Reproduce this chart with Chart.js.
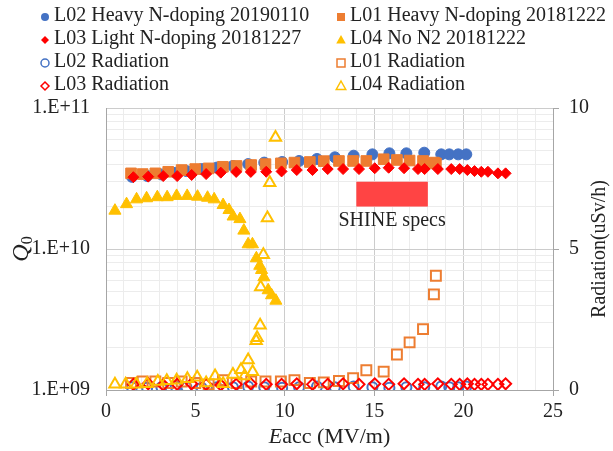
<!DOCTYPE html>
<html lang="en">
<head>
    <meta charset="UTF-8">
    <title>Q0 and radiation vs Eacc</title>
    <script src="https://cdn.jsdelivr.net/npm/chart.js"></script>
    <style>
        html, body {
            margin: 0;
            padding: 0;
            background-color: #ffffff;
        }

        #graph {
            display: block;
        }
    </style>
</head>
<body>

    <canvas id="graph" width="613" height="451"></canvas>

    <script>
        // L02 Heavy N-doping 20190110
        const l02Eacc = [1.45, 2.3, 3.1, 3.9, 4.5, 5.35, 6.2, 7.1, 7.95, 8.85, 9.85, 10.8, 11.8, 12.8, 13.85, 14.9, 15.85, 16.8, 17.8, 18.75, 19.2, 19.7, 20.15];
        const l02Q0 = [3.25e10, 3.3e10, 3.38e10, 3.47e10, 3.57e10, 3.69e10, 3.78e10, 3.88e10, 4.0e10, 4.1e10, 4.14e10, 4.21e10, 4.35e10, 4.47e10, 4.59e10, 4.69e10, 4.77e10, 4.77e10, 4.82e10, 4.69e10, 4.69e10, 4.69e10, 4.69e10];
        const l02Rad = [0.1, 0.08, 0.1, 0.12, 0.1, 0.08, 0.1, 0.1, 0.12, 0.1, 0.08, 0.1, 0.12, 0.1, 0.12, 0.1, 0.08, 0.1, 0.1, 0.12, 0.1, 0.1, 0.12];

        // L01 Heavy N-doping 20181222
        const l01Eacc = [1.4, 2.05, 2.76, 3.48, 4.23, 4.99, 5.74, 6.54, 7.3, 8.12, 8.92, 9.78, 10.54, 11.4, 12.18, 13.03, 13.82, 14.56, 15.53, 16.27, 16.98, 17.73, 18.34, 18.45];
        const l01Q0 = [3.44e10, 3.4e10, 3.44e10, 3.53e10, 3.63e10, 3.69e10, 3.73e10, 3.83e10, 3.88e10, 3.94e10, 4.0e10, 4.05e10, 4.1e10, 4.14e10, 4.2e10, 4.21e10, 4.21e10, 4.21e10, 4.33e10, 4.28e10, 4.24e10, 4.21e10, 4.1e10, 4.05e10];
        const l01Rad = [0.25, 0.3, 0.3, 0.25, 0.3, 0.25, 0.2, 0.35, 0.25, 0.3, 0.3, 0.3, 0.35, 0.25, 0.27, 0.32, 0.42, 0.7, 0.65, 1.26, 1.69, 2.16, 3.39, 4.05];

        // L03 Light N-doping 20181227
        const l03Eacc = [1.53, 2.36, 3.2, 3.98, 4.79, 5.6, 6.42, 7.28, 8.1, 8.96, 9.82, 10.67, 11.55, 12.4, 13.26, 14.15, 15.03, 15.81, 16.67, 17.45, 17.82, 18.56, 19.31, 19.78, 20.21, 20.61, 20.99, 21.36, 21.92, 22.35];
        const l03Q0 = [3.23e10, 3.26e10, 3.29e10, 3.29e10, 3.35e10, 3.4e10, 3.48e10, 3.52e10, 3.52e10, 3.53e10, 3.55e10, 3.63e10, 3.63e10, 3.69e10, 3.69e10, 3.69e10, 3.74e10, 3.77e10, 3.74e10, 3.69e10, 3.69e10, 3.69e10, 3.69e10, 3.69e10, 3.63e10, 3.57e10, 3.53e10, 3.53e10, 3.44e10, 3.44e10];
        const l03Rad = [0.2, 0.22, 0.18, 0.2, 0.22, 0.2, 0.18, 0.2, 0.22, 0.2, 0.2, 0.22, 0.2, 0.2, 0.22, 0.2, 0.22, 0.2, 0.22, 0.2, 0.2, 0.22, 0.2, 0.2, 0.22, 0.2, 0.2, 0.2, 0.2, 0.22];

        // L04 No N2 20181222
        const l04Eacc = [0.5, 1.15, 1.71, 2.27, 2.87, 3.42, 3.95, 4.54, 5.12, 5.68, 6.05, 6.55, 6.88, 7.11, 7.49, 7.71, 7.95, 8.19, 8.41, 8.6, 8.7, 8.83, 9.07, 9.26, 9.5];
        const l04Q0 = [1.87e10, 2.08e10, 2.25e10, 2.29e10, 2.33e10, 2.33e10, 2.38e10, 2.38e10, 2.35e10, 2.31e10, 2.25e10, 2.05e10, 1.89e10, 1.7e10, 1.63e10, 1.35e10, 1.08e10, 1.08e10, 8.6e9, 7.6e9, 7.1e9, 6.3e9, 5.1e9, 4.7e9, 4.3e9];
        const l04RadEacc = [0.5, 1.1, 1.7, 2.3, 2.9, 3.4, 3.95, 4.55, 5.1, 5.6, 6.1, 6.55, 7.1, 7.55, 7.75, 7.95, 8.2, 8.4, 8.45, 8.62, 8.65, 8.8, 9.03, 9.16, 9.48];
        const l04Rad = [0.2, 0.2, 0.2, 0.22, 0.3, 0.33, 0.35, 0.4, 0.45, 0.25, 0.5, 0.22, 0.55, 0.72, 0.5, 1.06, 0.65, 1.75, 1.85, 2.3, 3.65, 4.8, 6.1, 7.35, 8.95];

        // SHINE specs box (Eacc range, Q0 range)
        const shineEacc = [14, 18];
        const shineQ0 = [2e10, 3e10];

        // axis ticks
        const eaccLabels = [0, 5, 10, 15, 20, 25];
        const q0Decades = [1e9, 1e10, 1e11];
        const q0DecadeText = ['1.E+09', '1.E+10', '1.E+11'];
        const radTicks = [0, 5, 10];

        const SERIF = "'Liberation Serif', 'Times New Roman', serif";
        const BLUE = '#4472C4';
        const ORANGE = '#ED7D31';
        const RED = '#FF0000';
        const GOLD = '#FFC000';

        function pts(xs, ys) {
            return xs.map((x, i) => ({ x: x, y: ys[i] }));
        }

        function isDecade(v) {
            const l = Math.log10(v);
            return Math.abs(l - Math.round(l)) < 1e-6;
        }

        const datasets = [
            { label: 'L02 Heavy N-doping 20190110', data: pts(l02Eacc, l02Q0), yAxisID: 'y',
              pointStyle: 'circle', pointRadius: 5.5, backgroundColor: BLUE, borderColor: BLUE, borderWidth: 1, filled: true },
            { label: 'L01 Heavy N-doping 20181222', data: pts(l01Eacc, l01Q0), yAxisID: 'y',
              pointStyle: 'rect', pointRadius: 7.5, backgroundColor: ORANGE, borderColor: ORANGE, borderWidth: 1, filled: true },
            { label: 'L03 Light N-doping 20181227', data: pts(l03Eacc, l03Q0), yAxisID: 'y',
              pointStyle: 'rectRot', pointRadius: 5.5, backgroundColor: RED, borderColor: RED, borderWidth: 1, filled: true },
            { label: 'L04 No N2 20181222', data: pts(l04Eacc, l04Q0), yAxisID: 'y',
              pointStyle: 'triangle', pointRadius: 7, backgroundColor: GOLD, borderColor: GOLD, borderWidth: 1, filled: true },
            { label: 'L02 Radiation', data: pts(l02Eacc, l02Rad), yAxisID: 'y2',
              pointStyle: 'circle', pointRadius: 5, backgroundColor: 'rgba(255,255,255,0)', borderColor: BLUE, borderWidth: 2, filled: false },
            { label: 'L01 Radiation', data: pts(l01Eacc, l01Rad), yAxisID: 'y2',
              pointStyle: 'rect', pointRadius: 7, backgroundColor: 'rgba(255,255,255,0)', borderColor: ORANGE, borderWidth: 2, filled: false },
            { label: 'L03 Radiation', data: pts(l03Eacc, l03Rad), yAxisID: 'y2',
              pointStyle: 'rectRot', pointRadius: 5.5, backgroundColor: 'rgba(255,255,255,0)', borderColor: RED, borderWidth: 2, filled: false },
            { label: 'L04 Radiation', data: pts(l04RadEacc, l04Rad), yAxisID: 'y2',
              pointStyle: 'triangle', pointRadius: 6.5, backgroundColor: 'rgba(255,255,255,0)', borderColor: GOLD, borderWidth: 2, filled: false }
        ];
        // later series drawn on top, like the spreadsheet
        datasets.forEach((d, i) => { d.order = 20 - i; d.showLine = false; d.pointHoverRadius = d.pointRadius; });

        function marker(ctx, style, x, y, r) {
            ctx.beginPath();
            if (style === 'circle') {
                ctx.arc(x, y, r, 0, Math.PI * 2);
            } else if (style === 'rect') {
                ctx.rect(x - r, y - r, 2 * r, 2 * r);
            } else if (style === 'rectRot') {
                ctx.moveTo(x, y - r); ctx.lineTo(x + r, y); ctx.lineTo(x, y + r); ctx.lineTo(x - r, y);
            } else {
                ctx.moveTo(x, y - r); ctx.lineTo(x + r * 0.95, y + r * 0.7); ctx.lineTo(x - r * 0.95, y + r * 0.7);
            }
            ctx.closePath();
        }

        const shineBox = {
            id: 'shineBox',
            beforeDatasetsDraw(chart) {
                const ctx = chart.ctx;
                const xs = chart.scales.x, ys = chart.scales.y;
                const x0 = xs.getPixelForValue(shineEacc[0]), x1 = xs.getPixelForValue(shineEacc[1]);
                const yTop = ys.getPixelForValue(shineQ0[1]), yBot = ys.getPixelForValue(shineQ0[0]);
                ctx.save();
                ctx.fillStyle = '#FF4444';
                ctx.fillRect(x0, yTop, x1 - x0, yBot - yTop);
                ctx.fillStyle = '#222222';
                ctx.font = '20px ' + SERIF;
                ctx.textAlign = 'center';
                ctx.textBaseline = 'middle';
                ctx.fillText('SHINE specs', (x0 + x1) / 2, yBot + 14);
                ctx.restore();
            }
        };

        const extras = {
            id: 'extras',
            afterDraw(chart) {
                const ctx = chart.ctx;
                const area = chart.chartArea;
                ctx.save();
                ctx.fillStyle = '#222222';
                ctx.textBaseline = 'middle';

                // two column legend
                const colX = [45, 341];
                const rowY = [16, 39, 62, 85];
                ctx.font = '20px ' + SERIF;
                ctx.textAlign = 'left';
                chart.data.datasets.forEach((d, i) => {
                    const x = colX[i % 2], y = rowY[Math.floor(i / 2)];
                    const r = d.pointStyle === 'rect' ? 4 : (d.pointStyle === 'triangle' ? 5 : 4);
                    marker(ctx, d.pointStyle, x, y + 1, r);
                    if (d.filled) {
                        ctx.fillStyle = d.backgroundColor;
                        ctx.fill();
                    } else {
                        ctx.lineWidth = 1.5;
                        ctx.strokeStyle = d.borderColor;
                        ctx.stroke();
                    }
                    ctx.fillStyle = '#222222';
                    ctx.fillText(d.label, x + 9, y);
                });

                // x title: Eacc (MV/m)
                ctx.font = 'italic 22px ' + SERIF;
                const wE = ctx.measureText('E').width;
                ctx.font = '22px ' + SERIF;
                const wRest = ctx.measureText('acc (MV/m)').width;
                const cx = (area.left + area.right) / 2;
                let sx = cx - (wE + wRest) / 2;
                ctx.font = 'italic 22px ' + SERIF;
                ctx.fillText('E', sx, 437);
                ctx.font = '22px ' + SERIF;
                ctx.fillText('acc (MV/m)', sx + wE, 437);

                // y title: Q0 (subscript)
                ctx.save();
                ctx.translate(22, (area.top + area.bottom) / 2);
                ctx.rotate(-Math.PI / 2);
                ctx.font = 'italic 24px ' + SERIF;
                const wQ = ctx.measureText('Q').width;
                ctx.font = '16px ' + SERIF;
                const w0 = ctx.measureText('0').width;
                const qx = -(wQ + w0) / 2;
                ctx.font = 'italic 24px ' + SERIF;
                ctx.fillText('Q', qx, 0);
                ctx.font = '16px ' + SERIF;
                ctx.fillText('0', qx + wQ, 6);
                ctx.restore();

                // right title
                ctx.save();
                ctx.translate(600, (area.top + area.bottom) / 2);
                ctx.rotate(-Math.PI / 2);
                ctx.font = '20px ' + SERIF;
                ctx.textAlign = 'center';
                ctx.fillText('Radiation(uSv/h)', 0, 0);
                ctx.restore();

                ctx.restore();
            }
        };

        const ctx = document.getElementById('graph').getContext('2d');
        const graph = new Chart(ctx, {
            type: 'scatter',
            data: { datasets: datasets },
            options: {
                responsive: false,
                animation: false,
                devicePixelRatio: 1,
                layout: { padding: { top: 108, left: 0, right: 0, bottom: 0 } },
                plugins: {
                    legend: { display: false },
                    tooltip: { enabled: false }
                },
                scales: {
                    x: {
                        type: 'linear',
                        min: 0,
                        max: 25,
                        afterBuildTicks(scale) {
                            const t = [];
                            for (let v = 0; v <= 25; v++) t.push({ value: v });
                            scale.ticks = t;
                        },
                        afterFit(scale) { scale.height = 61; },
                        ticks: {
                            autoSkip: false,
                            maxRotation: 0,
                            padding: 4,
                            color: '#222222',
                            font: { family: SERIF, size: 20 },
                            callback: v => eaccLabels.includes(v) ? String(v) : ''
                        },
                        grid: {
                            color: c => (c.tick && c.tick.value % 5 === 0) ? '#cccccc' : '#ececec',
                            tickColor: c => (c.tick && c.tick.value % 5 === 0) ? '#a6a6a6' : 'rgba(0,0,0,0)',
                            tickLength: 6
                        },
                        border: { color: '#a6a6a6', width: 1 }
                    },
                    y: {
                        type: 'logarithmic',
                        position: 'left',
                        min: 1e9,
                        max: 1e11,
                        afterBuildTicks(scale) {
                            const t = [];
                            for (let d = 0; d < q0Decades.length - 1; d++) {
                                for (let k = 1; k <= 9; k++) t.push({ value: k * q0Decades[d] });
                            }
                            t.push({ value: q0Decades[q0Decades.length - 1] });
                            scale.ticks = t;
                        },
                        afterFit(scale) { scale.width = 106; },
                        ticks: {
                            autoSkip: false,
                            padding: 16,
                            color: '#222222',
                            font: { family: SERIF, size: 20 },
                            callback: v => {
                                const idx = q0Decades.findIndex(d => Math.abs(d - v) / d < 1e-6);
                                return idx >= 0 ? q0DecadeText[idx] : '';
                            }
                        },
                        grid: {
                            drawTicks: false,
                            color: c => (c.tick && isDecade(c.tick.value)) ? '#cccccc' : '#ececec'
                        },
                        border: { color: '#a6a6a6', width: 1 }
                    },
                    y2: {
                        type: 'linear',
                        position: 'right',
                        min: 0,
                        max: 10,
                        afterBuildTicks(scale) {
                            scale.ticks = radTicks.map(v => ({ value: v }));
                        },
                        afterFit(scale) { scale.width = 60; },
                        ticks: {
                            padding: 10,
                            color: '#222222',
                            font: { family: SERIF, size: 20 }
                        },
                        grid: {
                            drawOnChartArea: false,
                            tickColor: '#a6a6a6',
                            tickLength: 6
                        },
                        border: { color: '#a6a6a6', width: 1 }
                    }
                }
            },
            plugins: [shineBox, extras]
        });
    </script>

</body>
</html>
